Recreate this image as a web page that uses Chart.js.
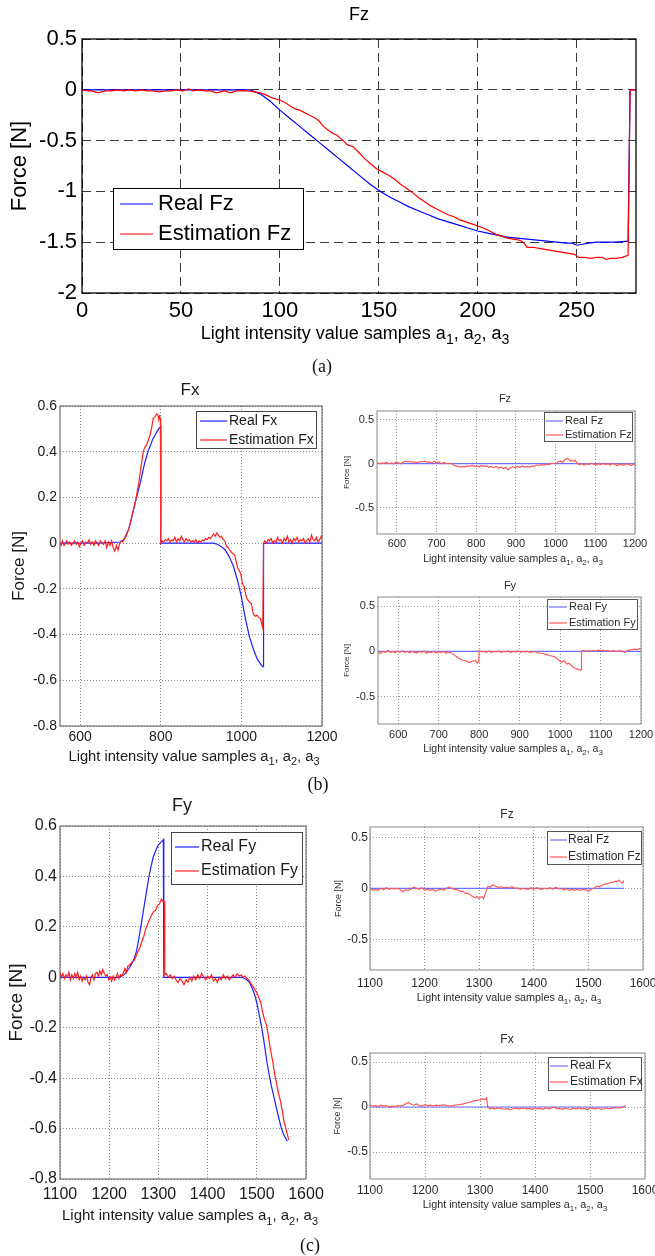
<!DOCTYPE html>
<html lang="en">
<head>
<meta charset="UTF-8">
<title>Force estimation Fz / Fx / Fy</title>
<script src="https://cdn.jsdelivr.net/npm/chart.js"></script>
<style>
  body { margin: 0; background: #fff; }
  #page { position: relative; width: 655px; height: 1256px; overflow: hidden; }
  #page canvas { position: absolute; left: 0; top: 0; }
  .tag { position: absolute; font: 18px "Liberation Serif", "Times New Roman", serif; color: #111;
         transform: translate(-50%, -50%); line-height: 1; }
</style>
</head>
<body>
<div id="page">
  <canvas id="chA" width="700" height="1256"></canvas>
  <canvas id="chB1" width="700" height="1256"></canvas>
  <canvas id="chB2" width="700" height="1256"></canvas>
  <canvas id="chB3" width="700" height="1256"></canvas>
  <canvas id="chC1" width="700" height="1256"></canvas>
  <canvas id="chC2" width="700" height="1256"></canvas>
  <canvas id="chC3" width="700" height="1256"></canvas>
  <div class="tag" style="left:322px;top:366px">(a)</div>
  <div class="tag" style="left:318px;top:784px">(b)</div>
  <div class="tag" style="left:310px;top:1245px">(c)</div>
</div>
<script>
// ---- data: [sample, force N] ----

// (a) Fz
const aReal = [[0,0],[20,0],[40,0],[60,0],[80,0],[85,0],[90,-0.04],[95,-0.11],[100,-0.2],[105,-0.28],[110,-0.36],[115,-0.44],[120,-0.52],[125,-0.6],[130,-0.68],[135,-0.76],[140,-0.84],[145,-0.92],[150,-0.99],[155,-1.05],[160,-1.1],[165,-1.15],[170,-1.19],[175,-1.23],[180,-1.27],[185,-1.3],[190,-1.33],[195,-1.36],[200,-1.39],[205,-1.41],[210,-1.43],[215,-1.45],[220,-1.46],[225,-1.47],[230,-1.48],[235,-1.49],[240,-1.5],[245,-1.51],[248,-1.51],[250,-1.53],[253,-1.52],[256,-1.51],[260,-1.5],[265,-1.5],[270,-1.5],[276,-1.49],[277,0],[280,0]];
const aEst = [[0,0],[3,-0.01],[5,-0.01],[8,-0.03],[10,-0.02],[12,-0.01],[15,-0.01],[18,0],[21,-0.01],[24,0],[27,-0.01],[30,0],[33,-0.01],[36,-0.01],[39,-0.02],[42,-0.01],[45,-0.01],[48,0],[51,-0.01],[54,0.01],[56,-0.01],[59,0],[62,-0.01],[65,-0.01],[68,-0.03],[70,-0.02],[72,-0.01],[75,-0.03],[78,-0.01],[81,-0.01],[84,-0.01],[87,-0.02],[90,-0.03],[93,-0.05],[96,-0.08],[100,-0.1],[103,-0.13],[106,-0.17],[108,-0.19],[110,-0.2],[112,-0.22],[115,-0.25],[118,-0.28],[120,-0.31],[122,-0.36],[124,-0.39],[126,-0.42],[129,-0.45],[132,-0.5],[134,-0.54],[137,-0.56],[140,-0.62],[143,-0.68],[146,-0.73],[149,-0.78],[152,-0.81],[155,-0.84],[158,-0.88],[161,-0.93],[164,-0.97],[167,-1.01],[170,-1.06],[173,-1.1],[176,-1.14],[179,-1.17],[182,-1.2],[185,-1.23],[188,-1.25],[191,-1.28],[194,-1.3],[197,-1.32],[200,-1.34],[203,-1.36],[206,-1.39],[209,-1.42],[212,-1.44],[215,-1.46],[218,-1.47],[221,-1.48],[223,-1.5],[225,-1.55],[228,-1.55],[231,-1.56],[234,-1.57],[237,-1.58],[240,-1.59],[243,-1.6],[246,-1.61],[249,-1.62],[251,-1.65],[254,-1.65],[257,-1.66],[260,-1.65],[263,-1.65],[265,-1.67],[267,-1.66],[270,-1.66],[273,-1.65],[276,-1.63],[277,0],[280,0]];

// (b) Fx
const bFxReal = [[550,0],[600,0],[650,0],[700,0.005],[705,0.01],[710,0.02],[715,0.04],[720,0.06],[725,0.09],[730,0.13],[735,0.165],[740,0.2],[745,0.235],[750,0.27],[755,0.31],[760,0.35],[765,0.38],[770,0.41],[775,0.43],[780,0.455],[785,0.47],[790,0.486],[795,0.5],[800,0.51],[800,0],[850,0],[900,0],[930,0],[940,-0.005],[950,-0.015],[960,-0.03],[970,-0.06],[980,-0.1],[990,-0.16],[1000,-0.235],[1010,-0.33],[1020,-0.41],[1030,-0.465],[1040,-0.51],[1050,-0.535],[1053,-0.54],[1055,-0.54],[1055,0],[1100,0],[1200,0]];
const bFxEst = [[550,0],[553,-0.01],[556,0.01],[560,-0.01],[563,0],[567,0.01],[570,-0.005],[574,0.005],[578,-0.01],[582,0],[586,0.01],[590,-0.005],[594,0.005],[598,-0.015],[602,0],[606,0.01],[610,-0.01],[614,0.005],[618,0],[622,0.015],[626,-0.005],[630,0.005],[634,-0.01],[638,0.01],[642,0],[646,-0.01],[650,0.01],[654,0],[658,-0.005],[662,0.01],[666,-0.02],[670,0.005],[674,-0.01],[678,0.01],[682,-0.02],[686,-0.035],[690,-0.01],[694,-0.03],[698,0],[702,0.01],[706,0.005],[710,0.02],[714,0.03],[718,0.05],[722,0.07],[726,0.1],[730,0.13],[734,0.16],[738,0.19],[742,0.23],[746,0.27],[750,0.32],[754,0.37],[757,0.405],[761,0.42],[765,0.43],[769,0.45],[773,0.47],[777,0.5],[781,0.545],[785,0.55],[790,0.565],[793,0.56],[795,0.54],[797,0.555],[799,0.545],[800,0],[803,0.01],[807,0.005],[811,0.015],[815,0.01],[819,0.02],[823,0.005],[827,0.015],[831,0.01],[835,0.025],[839,0.005],[843,0.02],[847,0.01],[851,0.03],[855,0.015],[859,0.005],[863,0.02],[867,0.01],[871,0.015],[875,0.005],[879,0.01],[883,0.005],[887,0.015],[891,0],[895,0.01],[899,0.005],[903,0.015],[907,0.01],[911,0.02],[915,0.015],[919,0.025],[923,0.02],[927,0.03],[931,0.04],[935,0.03],[939,0.045],[943,0.035],[947,0.025],[951,0.03],[955,0.015],[959,0.01],[963,-0.015],[967,-0.02],[971,-0.03],[975,-0.04],[979,-0.045],[983,-0.05],[987,-0.08],[991,-0.11],[995,-0.12],[999,-0.14],[1003,-0.18],[1007,-0.19],[1010,-0.22],[1013,-0.24],[1017,-0.25],[1021,-0.26],[1025,-0.265],[1028,-0.3],[1031,-0.315],[1035,-0.32],[1039,-0.315],[1043,-0.325],[1047,-0.33],[1050,-0.35],[1053,-0.37],[1055,0],[1058,0.01],[1062,0],[1066,0.015],[1070,0.01],[1074,0.02],[1078,0],[1082,0.01],[1086,0.005],[1090,0.025],[1094,0.01],[1098,0.015],[1102,0],[1106,0.02],[1110,0.01],[1114,0.03],[1118,0.005],[1122,0.015],[1126,0],[1130,0.02],[1134,0.01],[1138,0.025],[1142,0.005],[1146,0.015],[1150,0.01],[1154,0.02],[1158,0],[1162,0.01],[1166,0.02],[1170,0.005],[1174,0.035],[1178,0.015],[1182,0.01],[1186,0.025],[1190,0.005],[1194,0.015],[1198,0.03],[1200,0.02]];

// (b) Fz
const bFzReal = [[550,0],[1200,0]];
const bFzEst = [[550,0.01],[556,0],[562,0.01],[568,0.005],[574,0.015],[580,0],[586,0.01],[592,0],[598,0.02],[604,0.01],[610,0],[616,0.02],[622,0.03],[628,0.02],[634,0.025],[640,0.015],[646,0.02],[652,0.01],[658,0.025],[664,0.02],[670,0.03],[676,0.015],[682,0.02],[688,0.01],[694,0.025],[700,0.01],[706,0.02],[712,0],[718,0.015],[724,0.005],[730,0],[736,0.005],[742,-0.015],[748,-0.025],[754,-0.03],[760,-0.04],[766,-0.03],[772,-0.035],[778,-0.025],[784,-0.03],[790,-0.02],[796,-0.03],[802,-0.025],[808,-0.035],[814,-0.02],[820,-0.03],[826,-0.025],[832,-0.04],[838,-0.03],[844,-0.045],[850,-0.03],[856,-0.05],[862,-0.04],[868,-0.055],[874,-0.04],[880,-0.07],[886,-0.045],[892,-0.035],[898,-0.045],[904,-0.03],[910,-0.04],[916,-0.025],[922,-0.035],[928,-0.03],[934,-0.04],[940,-0.025],[946,-0.03],[952,-0.015],[958,-0.02],[964,-0.01],[970,-0.015],[976,-0.005],[982,-0.01],[988,0],[994,0.005],[1000,0],[1006,0.02],[1012,0.03],[1018,0.015],[1024,0.05],[1030,0.06],[1034,0.045],[1038,0.03],[1042,0.04],[1046,0.025],[1050,0.04],[1054,0.005],[1060,-0.01],[1066,0],[1072,-0.015],[1078,0],[1084,-0.01],[1090,0.005],[1096,-0.005],[1102,-0.015],[1108,0],[1114,-0.01],[1120,0.005],[1126,-0.01],[1132,0],[1138,-0.015],[1144,0.005],[1150,-0.01],[1156,-0.02],[1162,-0.005],[1168,-0.015],[1174,-0.01],[1180,0],[1186,-0.01],[1192,-0.02],[1196,-0.005],[1200,-0.015]];

// (b) Fy
const bFyReal = [[550,0],[1200,0]];
const bFyEst = [[550,-0.01],[556,-0.02],[562,0],[568,-0.01],[574,0.01],[580,-0.01],[586,0],[592,-0.015],[598,0.005],[604,-0.01],[610,0.005],[616,-0.01],[622,0],[628,-0.015],[634,0],[640,-0.01],[646,-0.015],[652,0],[658,-0.01],[664,0.005],[670,-0.02],[676,-0.005],[682,-0.01],[688,0],[694,-0.015],[700,-0.005],[706,-0.01],[712,0],[718,-0.02],[724,-0.005],[730,-0.015],[736,-0.03],[742,-0.05],[748,-0.07],[754,-0.085],[760,-0.1],[766,-0.1],[772,-0.115],[778,-0.12],[784,-0.105],[790,-0.1],[796,-0.13],[799,-0.115],[800,0.01],[806,-0.005],[812,0],[818,-0.01],[824,0.005],[830,-0.01],[836,0],[842,-0.005],[848,0.005],[854,-0.01],[860,0],[866,-0.005],[872,0.005],[878,-0.01],[884,0],[890,-0.005],[896,0.005],[902,-0.01],[908,0],[914,-0.005],[920,0],[926,-0.01],[932,-0.005],[938,0],[944,-0.015],[950,-0.02],[956,-0.02],[962,-0.03],[968,-0.035],[974,-0.045],[980,-0.05],[986,-0.06],[992,-0.075],[998,-0.1],[1004,-0.12],[1010,-0.1],[1016,-0.14],[1022,-0.13],[1028,-0.155],[1034,-0.18],[1040,-0.19],[1046,-0.2],[1050,-0.21],[1052,-0.2],[1053,0],[1058,0.01],[1064,0],[1070,0.01],[1076,0.005],[1082,0.01],[1088,0.005],[1094,0.015],[1100,0.01],[1106,0.015],[1112,0.005],[1118,0.01],[1124,0],[1130,0.01],[1136,0.005],[1142,0],[1148,0.01],[1154,0],[1160,-0.01],[1166,0.01],[1172,0.015],[1178,0.02],[1184,0.025],[1190,0.02],[1196,0.03],[1200,0.025]];

// (c) Fy
const cFyReal = [[1100,0],[1150,0],[1200,0],[1220,0],[1230,0.01],[1235,0.02],[1240,0.035],[1245,0.05],[1250,0.07],[1255,0.1],[1260,0.15],[1265,0.21],[1270,0.27],[1275,0.33],[1280,0.39],[1285,0.44],[1290,0.48],[1295,0.505],[1300,0.525],[1305,0.535],[1310,0.545],[1311,0.55],[1311,0],[1400,0],[1460,0],[1470,0],[1480,-0.01],[1485,-0.02],[1490,-0.04],[1495,-0.065],[1500,-0.1],[1505,-0.15],[1510,-0.2],[1515,-0.26],[1520,-0.33],[1525,-0.385],[1530,-0.435],[1535,-0.475],[1540,-0.52],[1545,-0.56],[1550,-0.6],[1555,-0.625],[1560,-0.643],[1562,-0.65]];
const cFyEst = [[1100,0.02],[1103,0],[1106,0.015],[1109,-0.005],[1112,0.01],[1115,0],[1118,0.02],[1121,-0.01],[1124,0.01],[1127,-0.005],[1130,0.015],[1133,0],[1136,0.02],[1139,-0.01],[1142,0.005],[1145,-0.015],[1148,0],[1151,-0.01],[1154,0.005],[1157,-0.02],[1160,-0.03],[1163,0],[1166,0.01],[1169,-0.01],[1172,0.015],[1175,0.02],[1178,0.005],[1181,0.025],[1184,0.01],[1187,0.03],[1190,0.015],[1193,0.005],[1196,0.01],[1199,-0.01],[1202,0],[1205,-0.015],[1208,0.005],[1211,-0.01],[1214,0],[1217,0.015],[1220,-0.005],[1223,0.01],[1226,0.005],[1229,0.02],[1232,0.035],[1235,0.02],[1238,0.045],[1242,0.05],[1246,0.06],[1250,0.065],[1254,0.08],[1258,0.1],[1262,0.115],[1266,0.14],[1270,0.16],[1274,0.19],[1278,0.21],[1282,0.23],[1286,0.245],[1290,0.26],[1294,0.265],[1298,0.285],[1302,0.29],[1306,0.31],[1309,0.3],[1312,0.3],[1313,0.01],[1316,0.015],[1320,0],[1324,0.01],[1328,-0.005],[1332,0.005],[1336,-0.01],[1340,-0.02],[1344,-0.005],[1348,-0.015],[1352,-0.03],[1356,-0.01],[1360,-0.02],[1364,0],[1368,-0.015],[1372,0.005],[1376,-0.01],[1380,0.01],[1384,-0.005],[1388,0.015],[1392,0],[1396,-0.01],[1400,0.005],[1404,-0.005],[1408,0.01],[1412,-0.015],[1416,-0.005],[1420,-0.02],[1424,0],[1428,-0.01],[1432,0.01],[1436,-0.005],[1440,0.005],[1444,-0.01],[1448,0],[1452,0.01],[1456,0],[1460,0.015],[1464,0.005],[1468,0.01],[1472,0],[1476,0.005],[1480,-0.005],[1484,-0.01],[1488,-0.025],[1492,-0.035],[1496,-0.05],[1500,-0.06],[1504,-0.08],[1508,-0.1],[1512,-0.14],[1516,-0.17],[1520,-0.19],[1524,-0.24],[1528,-0.29],[1532,-0.33],[1536,-0.38],[1540,-0.42],[1544,-0.46],[1548,-0.49],[1552,-0.53],[1555,-0.57],[1558,-0.59],[1561,-0.615],[1563,-0.63],[1565,-0.645]];

// (c) Fz
const cFzReal = [[1100,0],[1565,0]];
const cFzEst = [[1100,0],[1105,-0.02],[1110,-0.01],[1115,-0.02],[1120,0],[1125,-0.015],[1130,0.005],[1135,-0.01],[1140,0],[1145,-0.005],[1150,0],[1155,-0.01],[1160,-0.035],[1165,-0.015],[1170,-0.02],[1175,-0.01],[1180,0.01],[1185,0],[1190,-0.01],[1195,0.005],[1200,-0.02],[1205,-0.01],[1210,-0.02],[1215,-0.01],[1220,-0.03],[1225,-0.015],[1230,-0.01],[1235,-0.02],[1240,0],[1245,0.01],[1250,0],[1255,-0.01],[1260,-0.015],[1265,-0.03],[1270,-0.03],[1275,-0.05],[1280,-0.05],[1285,-0.07],[1290,-0.085],[1293,-0.09],[1296,-0.08],[1299,-0.1],[1302,-0.09],[1305,-0.08],[1308,-0.1],[1311,-0.06],[1313,-0.02],[1316,0.02],[1320,0.01],[1325,0.035],[1330,0.02],[1335,0.01],[1340,0.015],[1345,0.005],[1350,0.01],[1355,0.005],[1360,0.015],[1365,0],[1370,0.005],[1375,-0.01],[1380,0],[1385,-0.005],[1390,-0.01],[1395,0.005],[1400,-0.01],[1405,0.005],[1410,-0.005],[1415,-0.01],[1420,0],[1425,-0.005],[1430,0.005],[1435,-0.01],[1440,0.01],[1445,-0.005],[1450,0],[1455,-0.015],[1460,-0.005],[1465,-0.02],[1470,-0.01],[1475,-0.02],[1480,-0.01],[1485,-0.02],[1490,-0.01],[1495,-0.015],[1500,-0.03],[1505,-0.01],[1510,0],[1515,0.02],[1520,0.015],[1525,0.03],[1530,0.04],[1535,0.045],[1540,0.055],[1545,0.06],[1550,0.07],[1553,0.065],[1556,0.08],[1559,0.06],[1562,0.05],[1565,0.075]];

// (c) Fx
const cFxReal = [[1100,0],[1565,0]];
const cFxEst = [[1100,0.02],[1105,0.01],[1110,0.015],[1115,0.005],[1120,0.02],[1125,0.01],[1130,0.015],[1135,0],[1140,0.01],[1145,0.005],[1150,0.015],[1155,0.01],[1160,0.02],[1165,0.035],[1170,0.05],[1175,0.03],[1180,0.02],[1185,0.035],[1190,0.015],[1195,0.01],[1200,0.025],[1205,0.015],[1210,0.02],[1215,0.01],[1220,0.02],[1225,0.015],[1230,0.02],[1235,0.025],[1240,0.015],[1245,0.01],[1250,0.015],[1255,0.02],[1260,0.025],[1265,0.03],[1270,0.035],[1275,0.045],[1280,0.05],[1285,0.06],[1290,0.07],[1295,0.075],[1300,0.08],[1305,0.09],[1310,0.085],[1312,0.1],[1314,0],[1318,-0.02],[1322,-0.01],[1326,-0.02],[1330,-0.015],[1335,-0.01],[1340,-0.02],[1345,-0.025],[1350,-0.015],[1355,-0.03],[1360,-0.02],[1365,-0.01],[1370,-0.02],[1375,-0.015],[1380,-0.01],[1385,-0.02],[1390,-0.015],[1395,-0.025],[1400,-0.01],[1405,-0.02],[1410,-0.015],[1415,-0.025],[1420,-0.01],[1425,-0.02],[1430,-0.01],[1435,0],[1440,-0.02],[1445,-0.015],[1450,-0.025],[1455,-0.01],[1460,-0.02],[1465,-0.03],[1470,-0.01],[1475,-0.02],[1480,-0.01],[1485,-0.02],[1490,-0.015],[1495,-0.03],[1500,-0.01],[1505,-0.015],[1510,-0.02],[1515,-0.01],[1520,-0.025],[1525,-0.02],[1530,-0.01],[1535,-0.02],[1540,-0.015],[1545,-0.005],[1550,-0.01],[1555,-0.01],[1560,0],[1565,0.015]];

// tick values
const aXTicks = [0, 50, 100, 150, 200, 250];
const aYTicks = [-2, -1.5, -1, -0.5, 0, 0.5];
const bigYTicks = [-0.8, -0.6, -0.4, -0.2, 0, 0.2, 0.4, 0.6];
const bXTicks = [600, 800, 1000, 1200];
const bSmallXTicks = [600, 700, 800, 900, 1000, 1100, 1200];
const cXTicks = [1100, 1200, 1300, 1400, 1500, 1600];
const smallYTicks = [-0.5, 0, 0.5];

const FONT = '"Liberation Sans", Arial, Helvetica, sans-serif';
Chart.defaults.font.family = FONT;
const CANVAS_W = 700, CANVAS_H = 1256;
const Y_BOX = 60, X_BOX = 40;   // room kept for tick labels

function drawXLabel(ctx, cx, baseY, size) {
  const parts = [['Light intensity value samples a', 0], ['1', 1], [', a', 0], ['2', 1], [', a', 0], ['3', 1]];
  const big = size + 'px ' + FONT, small = Math.round(size * 0.75) + 'px ' + FONT;
  let w = 0;
  parts.forEach(([t, s]) => { ctx.font = s ? small : big; w += ctx.measureText(t).width; });
  let x = cx - w / 2;
  ctx.textAlign = 'left';
  ctx.textBaseline = 'alphabetic';
  parts.forEach(([t, s]) => {
    ctx.font = s ? small : big;
    ctx.fillText(t, x, baseY + (s ? size * 0.3 : 0));
    x += ctx.measureText(t).width;
  });
}

// titles, axis names, frame and boxed legend
function decoPlugin(p) {
  return {
    id: 'deco',
    afterDraw(chart) {
      const ctx = chart.ctx, a = chart.chartArea;
      ctx.save();
      ctx.setLineDash([]);
      ctx.strokeStyle = p.frame[0];
      ctx.lineWidth = p.frame[1];
      ctx.strokeRect(a.left, a.top, a.right - a.left, a.bottom - a.top);

      ctx.fillStyle = p.textColor;
      ctx.font = p.title[1] + 'px ' + FONT;
      ctx.textAlign = 'center';
      ctx.textBaseline = 'alphabetic';
      ctx.fillText(p.title[0], p.title[2], p.title[3]);

      drawXLabel(ctx, p.xlab[1], p.xlab[2], p.xlab[0]);

      ctx.save();
      ctx.translate(p.ylab[1], (a.top + a.bottom) / 2);
      ctx.rotate(-Math.PI / 2);
      ctx.font = p.ylab[0] + 'px ' + FONT;
      ctx.textAlign = 'center';
      ctx.textBaseline = 'middle';
      ctx.fillText('Force [N]', 0, 0);
      ctx.restore();

      const L = p.legend, [x0, y0, x1, y1] = L.box;
      ctx.fillStyle = '#fff';
      ctx.fillRect(x0, y0, x1 - x0, y1 - y0);
      ctx.strokeStyle = L.border;
      ctx.lineWidth = 1;
      ctx.strokeRect(x0 + 0.5, y0 + 0.5, x1 - x0 - 1, y1 - y0 - 1);
      ctx.font = L.size + 'px ' + FONT;
      ctx.textAlign = 'left';
      ctx.textBaseline = 'middle';
      [[p.blue, L.names[0]], [p.red, L.names[1]]].forEach(([col, name], i) => {
        const y = L.rows[i];
        ctx.strokeStyle = col;
        ctx.lineWidth = p.lw;
        ctx.beginPath();
        ctx.moveTo(L.line[0], y);
        ctx.lineTo(L.line[1], y);
        ctx.stroke();
        ctx.fillStyle = p.textColor;
        ctx.fillText(name, L.textX, y);
      });
      ctx.restore();
    }
  };
}

function axis(min, max, ticks, p, isX) {
  return {
    type: 'linear', min: min, max: max,
    afterBuildTicks: s => { s.ticks = ticks.map(v => ({ value: v })); },
    afterFit: s => { if (isX) s.height = X_BOX; else s.width = Y_BOX; },
    ticks: {
      autoSkip: false, maxRotation: 0, minRotation: 0,
      padding: isX ? p.padX : p.padY,
      color: p.textColor,
      font: { size: p.tickSize, family: FONT },
      callback: v => String(v)
    },
    grid: { color: p.gridColor, lineWidth: 1, drawTicks: false },
    border: { display: false, dash: p.gridDash }
  };
}

function makeChart(p) {
  const [l, t, r, b] = p.area;
  new Chart(document.getElementById(p.id), {
    type: 'scatter',
    data: {
      datasets: [
        { label: p.legend.names[1], data: p.est.map(([x, y]) => ({ x, y })), borderColor: p.red },
        { label: p.legend.names[0], data: p.real.map(([x, y]) => ({ x, y })), borderColor: p.blue }
      ].map(d => Object.assign(d, { showLine: true, pointRadius: 0, borderWidth: p.lw, tension: 0, fill: false }))
    },
    options: {
      responsive: false,
      animation: false,
      layout: { padding: { left: l - Y_BOX, top: t, right: CANVAS_W - r, bottom: CANVAS_H - b - X_BOX } },
      plugins: { legend: { display: false }, tooltip: { enabled: false } },
      scales: {
        x: axis(p.x[0], p.x[1], p.x[2], p, true),
        y: axis(p.y[0], p.y[1], p.y[2], p, false)
      }
    },
    plugins: [decoPlugin(p)]
  });
}

const bigStyle = { textColor: '#1a1a1a', gridColor: '#8a8a8a', gridDash: [1, 2], frame: ['#555', 1], lw: 1.2, blue: '#2020ff', red: '#ff2020' };
const smallStyle = { textColor: '#2a2a2a', gridColor: '#9a9a9a', gridDash: [1, 2], frame: ['#888', 1], lw: 1.2, blue: '#7070ff', red: '#ff5a5a' };

const panels = [
  { id: 'chA', area: [82, 39, 636, 293], x: [0, 280, aXTicks], y: [-2, 0.5, aYTicks],
    real: aReal, est: aEst, textColor: '#000', gridColor: '#3a3a3a', gridDash: [9, 5], frame: ['#000', 1.3],
    lw: 1.2, blue: '#0000ff', red: '#ff0000', tickSize: 22, padX: 5, padY: 5,
    title: ['Fz', 18, 359, 20], xlab: [18, 355, 339], ylab: [22, 20],
    legend: { box: [113, 188, 304, 250], line: [120, 153], textX: 158, rows: [204, 234], size: 22, border: '#000', names: ['Real Fz', 'Estimation Fz'] } },
  Object.assign({}, bigStyle, { id: 'chB1', area: [60, 406, 322, 726], x: [550, 1200, bXTicks], y: [-0.8, 0.6, bigYTicks],
    real: bFxReal, est: bFxEst, tickSize: 14, padX: 3, padY: 3,
    title: ['Fx', 17, 190, 395], xlab: [14.7, 194, 761], ylab: [17, 19],
    legend: { box: [196, 411, 317, 449], line: [200, 227], textX: 229, rows: [421, 440], size: 14, border: '#444', names: ['Real Fx', 'Estimation Fx'] } }),
  Object.assign({}, smallStyle, { id: 'chB2', area: [377, 411, 635, 534], x: [550, 1200, bSmallXTicks], y: [-0.8, 0.6, smallYTicks],
    real: bFzReal, est: bFzEst, tickSize: 11, padX: 3, padY: 3,
    title: ['Fz', 11, 505, 402], xlab: [10.5, 513, 562], ylab: [8, 347],
    legend: { box: [544, 412, 633, 442], line: [546, 563], textX: 565, rows: [421, 435], size: 11, border: '#555', names: ['Real Fz', 'Estimation Fz'] } }),
  Object.assign({}, smallStyle, { id: 'chB3', area: [378, 597, 641, 724], x: [550, 1200, bSmallXTicks], y: [-0.8, 0.6, smallYTicks],
    real: bFyReal, est: bFyEst, tickSize: 11, padX: 4, padY: 3,
    title: ['Fy', 11, 510, 589], xlab: [10.5, 513, 752], ylab: [8, 347],
    legend: { box: [547, 599, 638, 630], line: [549, 567], textX: 569, rows: [607, 623], size: 11, border: '#555', names: ['Real Fy', 'Estimation Fy'] } }),
  Object.assign({}, bigStyle, { id: 'chC1', area: [60, 826, 306, 1179], x: [1100, 1600, cXTicks], y: [-0.8, 0.6, bigYTicks],
    real: cFyReal, est: cFyEst, tickSize: 16, padX: 6, padY: 3,
    title: ['Fy', 18, 182, 811], xlab: [15, 190, 1220], ylab: [19, 17],
    legend: { box: [171, 832, 303, 885], line: [175, 199], textX: 201, rows: [847, 871], size: 16, border: '#444', names: ['Real Fy', 'Estimation Fy'] } }),
  Object.assign({}, smallStyle, { id: 'chC2', area: [370, 827, 643, 970], x: [1100, 1600, cXTicks], y: [-0.8, 0.6, smallYTicks],
    real: cFzReal, est: cFzEst, tickSize: 12, padX: 6, padY: 2,
    title: ['Fz', 12, 507, 818], xlab: [10.8, 509, 1001], ylab: [9, 339],
    legend: { box: [547, 831, 642, 865], line: [550, 567], textX: 568, rows: [840, 857], size: 12, border: '#555', names: ['Real Fz', 'Estimation Fz'] } }),
  Object.assign({}, smallStyle, { id: 'chC3', area: [370, 1053, 645, 1179], x: [1100, 1600, cXTicks], y: [-0.8, 0.6, smallYTicks],
    real: cFxReal, est: cFxEst, tickSize: 12, padX: 4, padY: 2,
    title: ['Fx', 12, 507, 1043], xlab: [10.8, 515, 1208], ylab: [9, 338],
    legend: { box: [548, 1057, 642, 1091], line: [550, 568], textX: 570, rows: [1066, 1082], size: 12, border: '#555', names: ['Real Fx', 'Estimation Fx'] } })
];

panels.forEach(makeChart);
</script>
</body>
</html>
